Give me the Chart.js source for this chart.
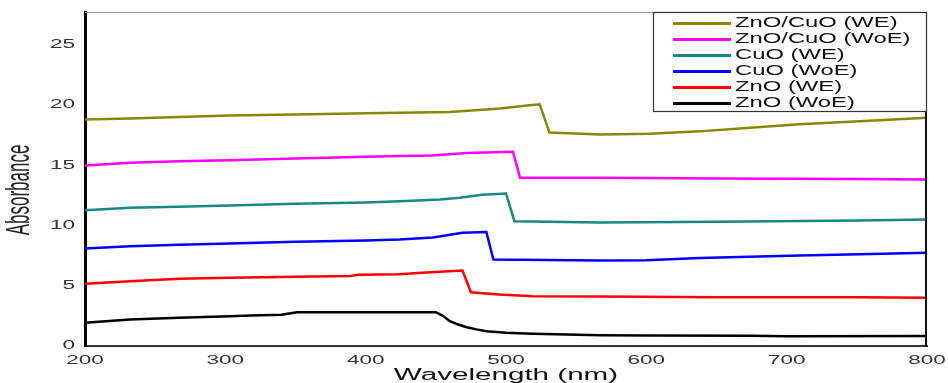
<!DOCTYPE html>
<html>
<head>
<meta charset="utf-8">
<title>Absorbance</title>
<script src="https://cdn.jsdelivr.net/npm/chart.js@4/dist/chart.umd.min.js"></script>
<style>
  body { margin: 0; background: #fff; }
  canvas { display: block; }
</style>
</head>
<body>
<canvas id="chart" width="948" height="383"></canvas>
<script>
// values (wavelength in nm, absorbance in a.u.)
const seriesLabels = ['ZnO/CuO (WE)', 'ZnO/CuO (WoE)', 'CuO (WE)', 'CuO (WoE)', 'ZnO (WE)', 'ZnO (WoE)'];
const seriesColors = ['#888800', '#ff00ff', '#178787', '#0000ff', '#ff0000', '#000000'];

const znoCuoWeX = [200, 232, 267, 303, 350, 400, 424, 460, 496, 515, 524, 531, 567, 602, 638, 674, 709, 752, 800];
const znoCuoWeY = [18.78, 18.86, 19.0, 19.11, 19.2, 19.3, 19.35, 19.4, 19.7, 19.95, 20.05, 17.7, 17.55, 17.6, 17.8, 18.1, 18.4, 18.64, 18.92];

const znoCuoWoeX = [200, 232, 267, 303, 350, 400, 424, 447, 472, 505, 510, 567, 650, 750, 800];
const znoCuoWoeY = [14.97, 15.19, 15.33, 15.41, 15.55, 15.7, 15.75, 15.8, 16.0, 16.1, 13.95, 13.95, 13.9, 13.85, 13.8];

const cuoWeX = [200, 232, 267, 303, 350, 400, 424, 453, 467, 483, 500, 506, 567, 650, 752, 800];
const cuoWeY = [11.26, 11.46, 11.54, 11.65, 11.8, 11.9, 12.0, 12.15, 12.3, 12.55, 12.65, 10.35, 10.25, 10.3, 10.4, 10.49];

const cuoWoeX = [200, 232, 267, 303, 350, 400, 424, 448, 469, 486, 491, 567, 600, 638, 709, 752, 800];
const cuoWoeY = [8.08, 8.28, 8.39, 8.5, 8.65, 8.75, 8.83, 9.0, 9.4, 9.45, 7.17, 7.1, 7.12, 7.3, 7.5, 7.6, 7.73];

const znoWeX = [200, 232, 267, 303, 350, 389, 395, 424, 440, 469, 475, 495, 519, 567, 650, 752, 800];
const znoWeY = [5.16, 5.37, 5.57, 5.65, 5.75, 5.8, 5.9, 5.95, 6.07, 6.26, 4.46, 4.27, 4.13, 4.1, 4.05, 4.05, 4.0];

const znoWoeX = [200, 232, 267, 303, 318, 340, 351, 400, 450, 455, 460, 466, 472, 479, 486, 500, 519, 567, 602, 674, 700, 800];
const znoWoeY = [1.92, 2.2, 2.34, 2.47, 2.53, 2.6, 2.8, 2.8, 2.8, 2.5, 2.06, 1.78, 1.56, 1.38, 1.23, 1.1, 1.01, 0.9, 0.88, 0.85, 0.8, 0.82];

const xTicks = [200, 300, 400, 500, 600, 700, 800];
const yTicks = [0, 5, 10, 15, 20, 25];

const seriesX = [znoCuoWeX, znoCuoWoeX, cuoWeX, cuoWoeX, znoWeX, znoWoeX];
const seriesY = [znoCuoWeY, znoCuoWoeY, cuoWeY, cuoWoeY, znoWeY, znoWoeY];

// the scanned figure is squashed sideways, so text is drawn stretched in x
function stretchText(ctx, text, x, y, sx, align) {
  ctx.save();
  ctx.translate(x, y);
  ctx.scale(sx, 1);
  ctx.textAlign = align;
  ctx.fillText(text, 0, 0);
  ctx.restore();
}

const figurePlugin = {
  id: 'figure',
  afterDraw(chart) {
    const { ctx, chartArea: a } = chart;
    const xs = chart.scales.x, ys = chart.scales.y;
    ctx.save();

    // top and right edges of the plot box
    ctx.strokeStyle = '#9a9a9a';
    ctx.lineWidth = 1;
    ctx.beginPath();
    ctx.moveTo(a.left, a.top + 0.5);
    ctx.lineTo(a.right, a.top + 0.5);
    ctx.stroke();
    ctx.strokeStyle = '#111';
    ctx.lineWidth = 2;
    ctx.beginPath();
    ctx.moveTo(a.right - 1, a.top);
    ctx.lineTo(a.right - 1, a.bottom + 1);
    ctx.stroke();

    // tick labels
    ctx.fillStyle = '#333';
    ctx.font = '12.5px "Liberation Sans", Arial, sans-serif';
    ctx.textBaseline = 'middle';
    yTicks.forEach(v => stretchText(ctx, String(v), a.left - 10, ys.getPixelForValue(v), 1.8, 'right'));
    xTicks.forEach(v => stretchText(ctx, String(v), xs.getPixelForValue(v), 361, 1.8, 'center'));

    // axis titles
    ctx.fillStyle = '#111';
    ctx.font = '16px "Liberation Sans", Arial, sans-serif';
    ctx.textBaseline = 'alphabetic';
    stretchText(ctx, 'Wavelength (nm)', (a.left + a.right) / 2, 379.5, 1.85, 'center');

    ctx.save();
    ctx.translate(20, 190);
    ctx.scale(2, 1);
    ctx.rotate(-Math.PI / 2);
    ctx.font = '17px "Liberation Sans", Arial, sans-serif';
    ctx.fillStyle = '#222';
    ctx.textAlign = 'center';
    ctx.textBaseline = 'middle';
    ctx.fillText('Absorbance', 0, 0);
    ctx.restore();

    // legend box in the top-right corner
    const bx = 653, by = a.top, bw = a.right - 653, bh = 99;
    ctx.fillStyle = '#fff';
    ctx.fillRect(bx, by, bw, bh);
    ctx.strokeStyle = '#333';
    ctx.lineWidth = 1.2;
    ctx.strokeRect(bx + 0.5, by + 0.5, bw - 1, bh);
    ctx.font = '14px "Liberation Sans", Arial, sans-serif';
    ctx.textBaseline = 'middle';
    chart.data.datasets.forEach((ds, i) => {
      const ry = by + 11.5 + i * 16;
      ctx.strokeStyle = ds.borderColor;
      ctx.lineWidth = 3;
      ctx.beginPath();
      ctx.moveTo(673, ry);
      ctx.lineTo(731, ry);
      ctx.stroke();
      ctx.fillStyle = '#111';
      stretchText(ctx, ds.label, 735, ry, 1.7, 'left');
    });

    ctx.restore();
  }
};

new Chart(document.getElementById('chart'), {
  type: 'line',
  data: {
    datasets: seriesLabels.map((label, i) => ({
      label: label,
      data: seriesX[i].map((x, j) => ({ x: x, y: seriesY[i][j] })),
      borderColor: seriesColors[i],
      backgroundColor: seriesColors[i],
      borderWidth: 2.5,
      pointRadius: 0,
      tension: 0,
      fill: false
    }))
  },
  options: {
    responsive: false,
    animation: false,
    devicePixelRatio: 1,
    layout: { padding: { top: 12, right: 21, left: 0, bottom: 0 } },
    plugins: {
      legend: { display: false },
      tooltip: { enabled: false }
    },
    scales: {
      x: {
        type: 'linear',
        min: 200,
        max: 800,
        grid: { display: false, drawTicks: false },
        border: { color: '#333', width: 2 },
        ticks: { display: false, stepSize: 100 },
        afterFit(scale) { scale.height = 37; }
      },
      y: {
        min: 0,
        max: 27.7,
        grid: { display: false, drawTicks: false },
        border: { color: '#000', width: 3 },
        ticks: { display: false, stepSize: 5 },
        afterFit(scale) { scale.width = 85; }
      }
    }
  },
  plugins: [figurePlugin]
});
</script>
</body>
</html>
